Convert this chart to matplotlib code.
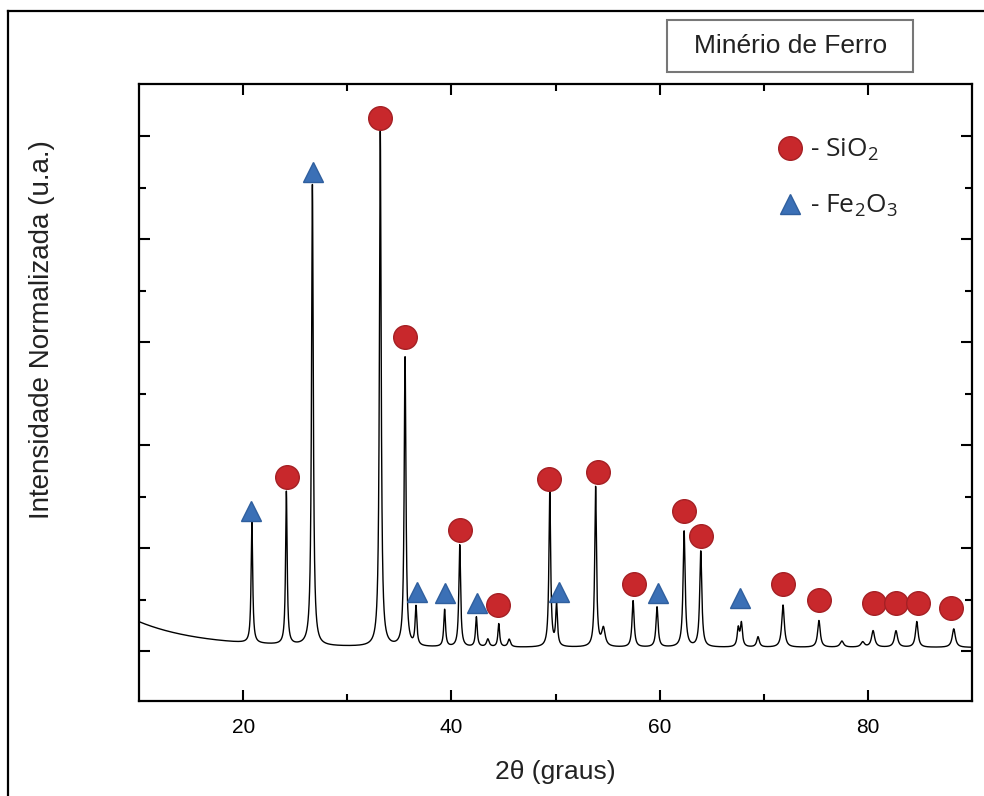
import numpy as np
import matplotlib
matplotlib.use("Agg")
import matplotlib.pyplot as plt
from matplotlib.patches import Rectangle
from matplotlib.lines import Line2D

plt.rcParams["font.family"] = ["Liberation Sans", "DejaVu Sans"]
plt.rcParams["mathtext.default"] = "regular"

peak_pos = [20.84, 24.15, 26.65, 33.17, 35.55, 36.6, 39.35, 40.8, 42.4, 43.5,
            44.55, 45.55, 49.45, 50.1, 53.85, 54.6, 57.45, 59.75, 62.35, 63.95,
            67.55, 67.85, 69.45, 71.85, 75.3, 77.5, 79.5, 80.5, 82.7, 84.7, 88.25]
peak_int = [0.235, 0.297, 0.895, 1.0, 0.561, 0.075, 0.072, 0.198, 0.058, 0.015,
            0.045, 0.015, 0.300, 0.080, 0.310, 0.035, 0.090, 0.078, 0.225, 0.186,
            0.035, 0.045, 0.020, 0.082, 0.052, 0.012, 0.010, 0.032, 0.032, 0.050, 0.036]
peak_hw = [0.09, 0.09, 0.10, 0.10, 0.10, 0.10, 0.10, 0.10, 0.10, 0.15,
           0.10, 0.15, 0.10, 0.10, 0.10, 0.20, 0.12, 0.12, 0.12, 0.12,
           0.12, 0.12, 0.15, 0.15, 0.15, 0.20, 0.20, 0.18, 0.18, 0.15, 0.18]

# fundo (amorfo) a baixo angulo
bg_level = 0.007
bg_amp = 0.050
bg_decay = 6.0

# marcadores das fases
sio2_x = [24.2, 33.1, 35.5, 40.8, 44.5, 49.4, 54.1, 57.55, 62.3, 63.95, 71.85, 75.35,
          80.6, 82.7, 84.85, 88.0]
sio2_y = [0.338, 1.035, 0.610, 0.235, 0.089, 0.334, 0.348, 0.130, 0.272, 0.223, 0.130,
          0.099, 0.093, 0.093, 0.093, 0.083]
fe2o3_x = [20.8, 26.7, 36.7, 39.35, 42.45, 50.3, 59.8, 67.7]
fe2o3_y = [0.272, 0.930, 0.115, 0.113, 0.093, 0.115, 0.113, 0.103]

# curva
x = np.linspace(10, 90, 16001)
y = bg_level + bg_amp * np.exp(-(x - 10) / bg_decay)
for p, h, w in zip(peak_pos, peak_int, peak_hw):
    y += h / (1 + ((x - p) / w) ** 2)

fig = plt.figure(figsize=(9.84, 7.96), dpi=100)
ax = fig.add_axes([0.1413, 0.1193, 0.8465, 0.7752])

ax.plot(x, y, color="black", lw=1.0)
ax.plot(sio2_x, sio2_y, "o", ms=17, color="#c8282c", mec="#a52024", mew=1, ls="none")
ax.plot(fe2o3_x, fe2o3_y, "^", ms=15, color="#3b70b6", mec="#2f5f9e", mew=1, ls="none")

ax.set_xlim(10, 90)
ax.set_ylim(-0.097, 1.101)
ax.set_xticks([20, 40, 60, 80])
ax.set_xticks([30, 50, 70], minor=True)
ax.set_yticks(np.arange(0, 1.01, 0.2))
ax.set_yticks(np.arange(0.1, 1.0, 0.2), minor=True)
ax.set_yticklabels([])
ax.tick_params(which="both", direction="in", top=True, right=True, width=1.5)
ax.tick_params(which="major", length=8, labelsize=15, pad=12)
ax.tick_params(which="minor", length=5)
for s in ax.spines.values():
    s.set_linewidth(1.6)

# legenda
ax.plot([0.7815], [0.896], "o", ms=17, color="#c8282c", mec="#a52024", transform=ax.transAxes)
ax.plot([0.7815], [0.8055], "^", ms=15, color="#3b70b6", mec="#2f5f9e", transform=ax.transAxes)
ax.text(0.806, 0.893, "- SiO$_2$", transform=ax.transAxes, va="center", ha="left",
        fontsize=19, family=["Open Sans", "DejaVu Sans"], color="#222222")
ax.text(0.806, 0.803, "- Fe$_2$O$_3$", transform=ax.transAxes, va="center", ha="left",
        fontsize=19, family=["Open Sans", "DejaVu Sans"], color="#222222")

fig.text(0.0427, 0.5854, "Intensidade Normalizada (u.a.)", rotation=90,
         ha="center", va="center", fontsize=20, color="#222222")
fig.text(0.5645, 0.030, "2θ (graus)", ha="center", va="center", fontsize=19, color="#222222")

# caixa do titulo
fig.patches.append(Rectangle((0.678, 0.9095), 0.25, 0.0654, transform=fig.transFigure,
                             fill=False, ec="#777777", lw=1.5))
fig.text(0.803, 0.9422, "Minério de Ferro", ha="center", va="center", fontsize=19,
         color="#222222")

# moldura externa
fig.add_artist(Line2D([0.0081, 0.0081], [0.0, 0.9862], color="black", lw=1.6,
                      transform=fig.transFigure))
fig.add_artist(Line2D([0.0081, 1.0], [0.9862, 0.9862], color="black", lw=1.6,
                      transform=fig.transFigure))

fig.savefig("out.png", dpi=100)
